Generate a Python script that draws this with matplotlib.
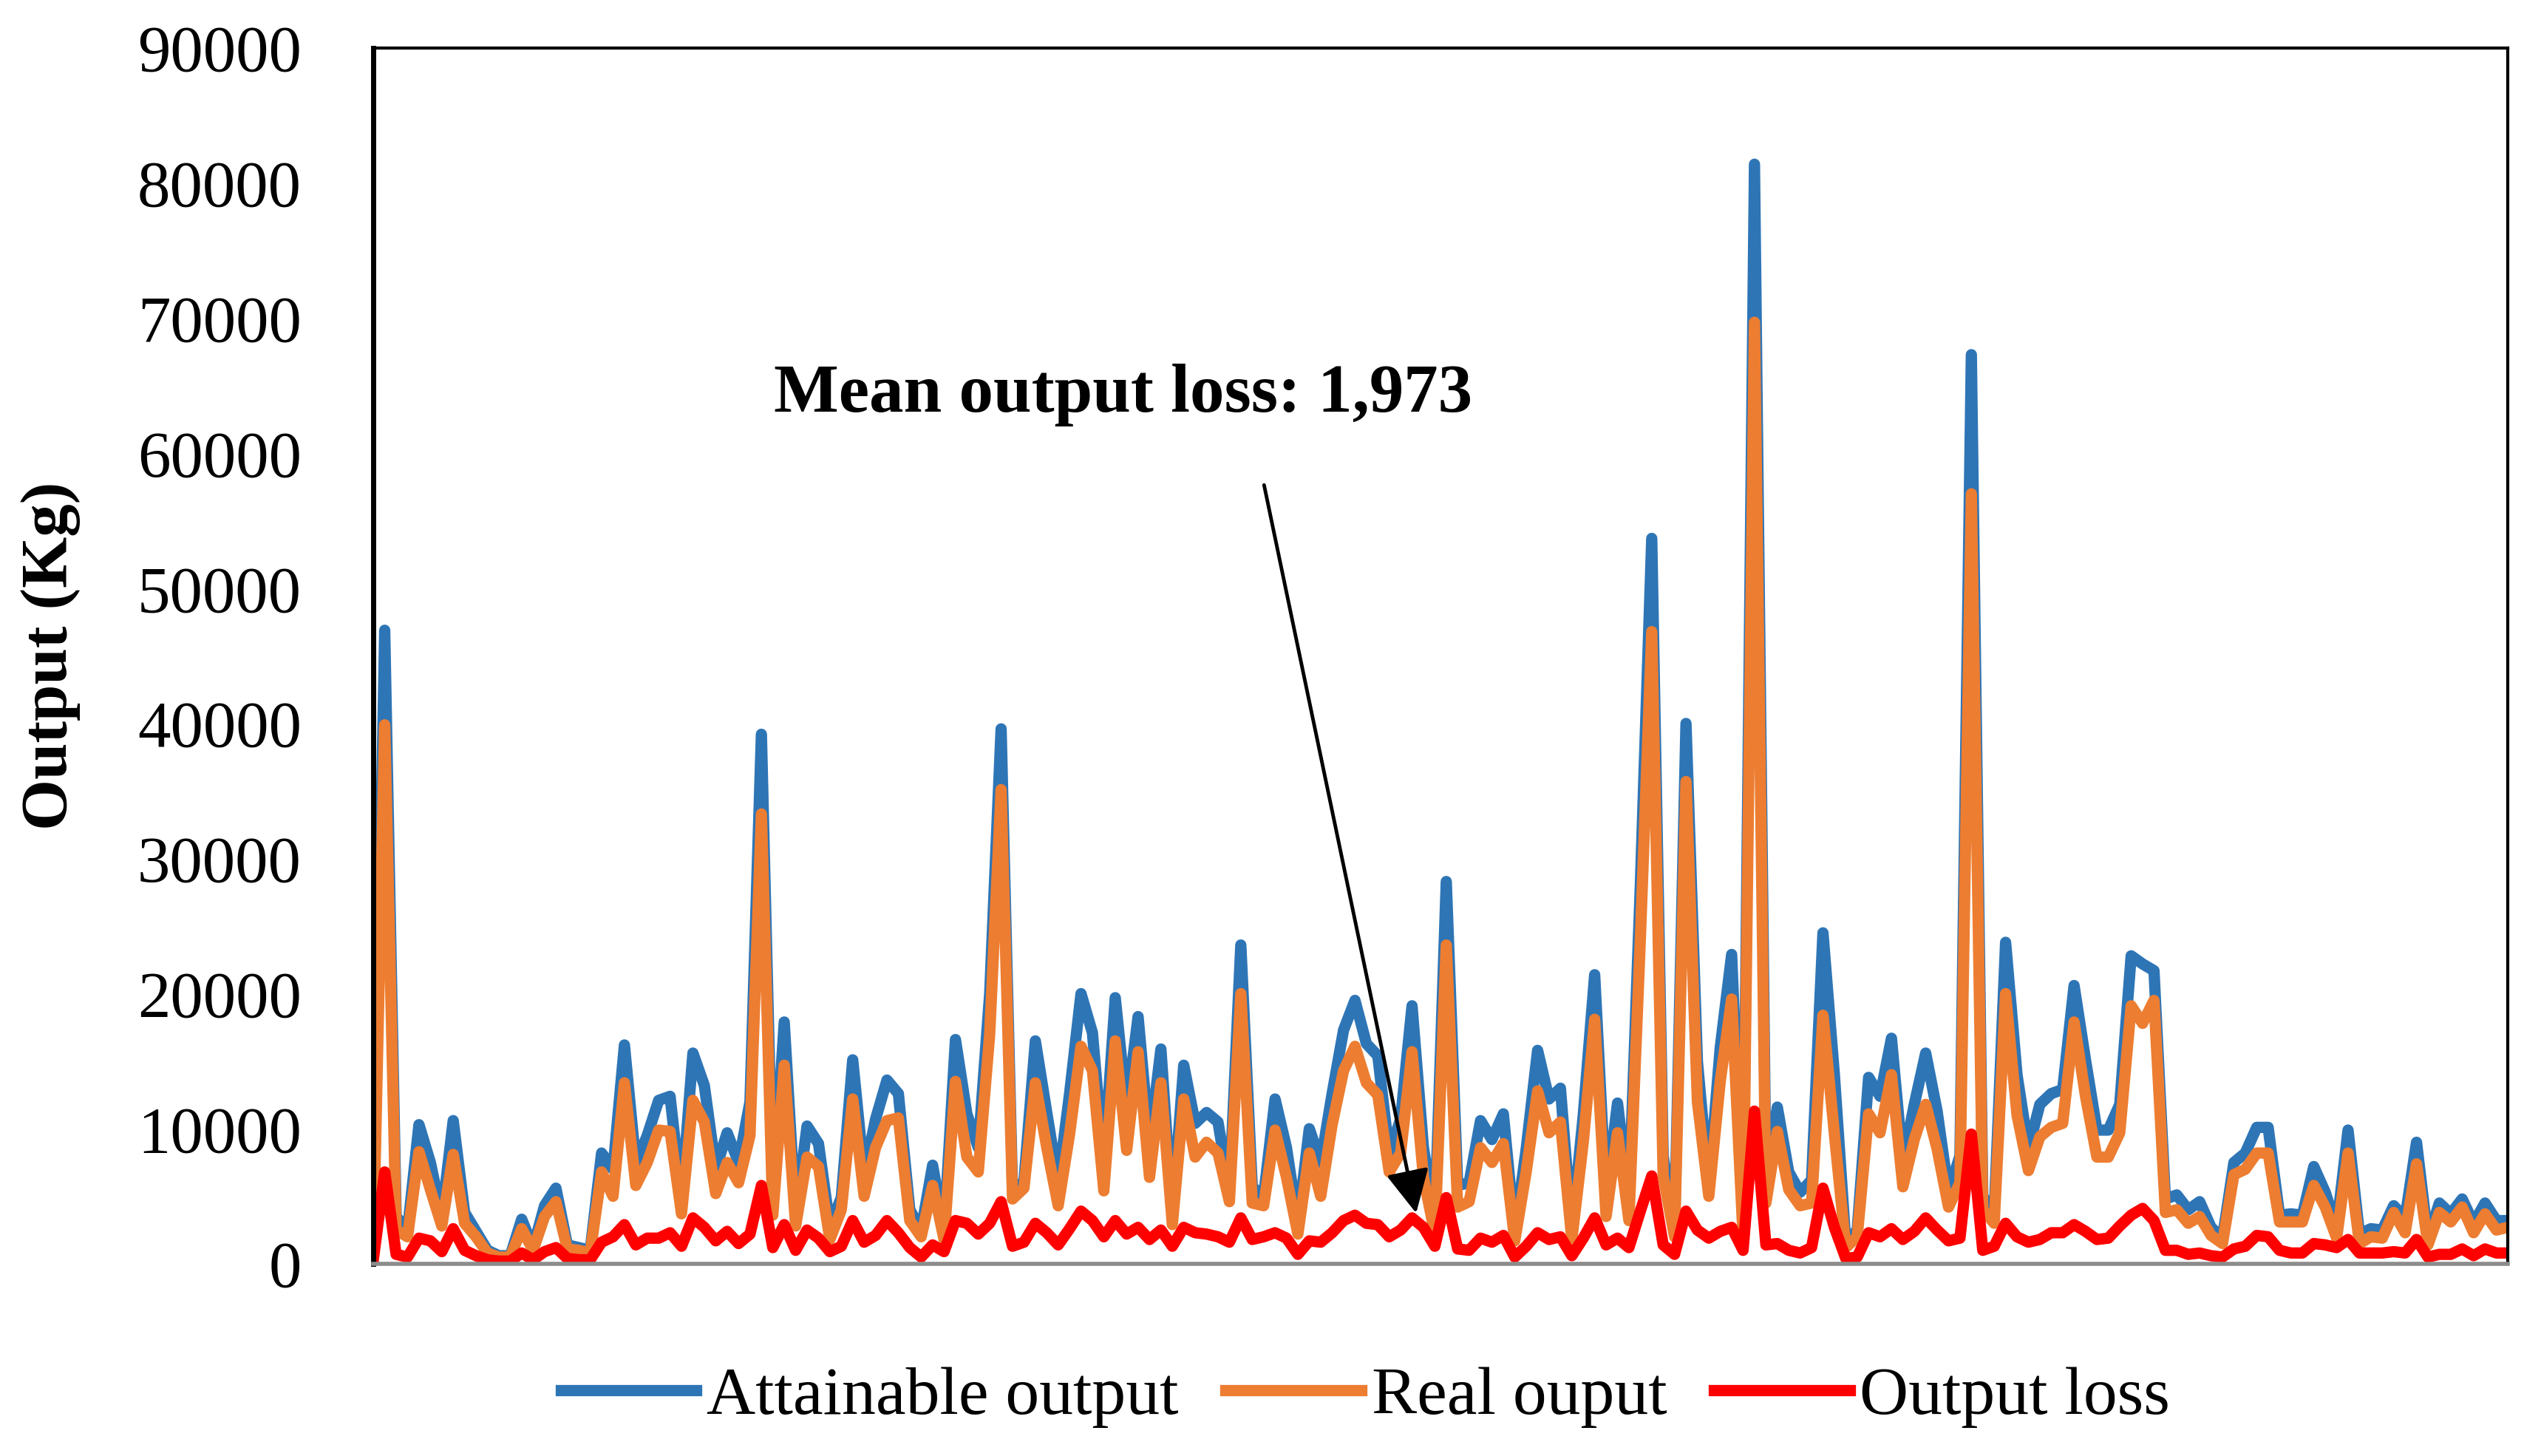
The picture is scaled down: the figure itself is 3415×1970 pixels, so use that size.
import matplotlib
matplotlib.use("Agg")
import matplotlib.pyplot as plt
import numpy as np

plt.rcParams['font.family'] = ['Liberation Serif', 'DejaVu Serif']

# values in thousands of Kg
attainable = [1.5, 46.9, 3.5, 2.5, 10.3, 7.5, 3.5, 10.6, 3.8, 2.4, 1.0, 0.6, 0.6, 3.3, 1.2, 4.3, 5.6, 1.4, 1.2, 1.0,
              8.2, 7.0, 16.2, 7.4, 9.5, 12.1, 12.4, 4.8, 15.6, 13.2, 7.0, 9.7,
              7.5, 12.0, 39.2, 4.8, 17.9, 3.6, 10.2, 8.9, 2.8, 4.9, 15.1, 6.6, 10.7, 13.6, 12.6, 4.0, 2.5, 7.3,
              2.5, 16.6, 11.1, 8.6, 20.0, 39.6, 5.4, 6.1, 16.5, 11.2, 6.0, 12.6, 20.0, 17.1, 7.4, 19.7,
              11.5, 18.3, 8.9, 15.9, 3.6, 14.7, 10.4, 11.2, 10.5, 5.4, 23.6, 5.7, 5.0, 12.2, 8.6, 3.0,
              10.0, 7.5, 12.6, 17.3, 19.5, 16.3, 15.4, 8.2, 10.7, 19.1, 8.6, 3.5, 28.3,
              5.8, 6.0, 10.6, 9.2, 11.1, 2.3, 8.5, 15.8, 12.2, 13.0, 2.5, 11.0, 21.4, 4.9, 11.9, 4.9, 28.0,
              53.7, 8.0, 2.8, 40.0, 15.0, 5.7, 16.0, 22.9, 2.5, 81.4, 6.2, 11.6, 6.8, 5.3,
              6.2, 24.5, 14.0, 1.6, 2.5, 13.8, 12.4, 16.7, 7.5, 11.8, 15.6, 11.3, 5.3, 8.0, 67.3, 5.0, 3.8,
              23.8, 14.0, 8.5, 11.8, 12.6, 12.9, 20.6, 15.1, 9.9, 9.9, 11.8, 22.8, 22.2, 21.7, 4.8, 5.1, 4.0,
              4.6, 2.7, 1.9, 7.5, 8.2, 10.1, 10.1, 3.6, 3.7, 3.6, 7.2, 5.3, 2.7, 9.9, 2.2, 2.6, 2.5, 4.3,
              3.4, 9.0, 1.9, 4.5, 3.7, 4.8, 3.0, 4.5, 3.2, 3.2]
real = [1.0, 39.9, 2.5, 2.0, 8.3, 5.5, 2.8, 8.1, 3.0, 2.0, 0.8, 0.5, 0.5, 2.6, 1.0, 3.5, 4.6, 1.1, 1.0, 0.8,
        6.8, 5.0, 13.4, 5.8, 7.5, 9.9, 9.8, 3.7, 12.1, 10.5, 5.2, 7.5,
        6.0, 9.5, 33.3, 3.6, 14.7, 2.8, 7.9, 7.2, 1.8, 4.0, 12.2, 5.0, 8.6, 10.6, 10.8, 3.2, 2.0, 5.8,
        1.8, 13.5, 7.9, 6.8, 17.0, 35.1, 4.8, 5.6, 13.4, 8.6, 4.3, 9.6, 16.1, 14.3, 5.4, 16.5,
        8.4, 15.7, 6.4, 13.4, 2.9, 12.2, 7.9, 9.0, 8.2, 4.6, 20.0, 4.5, 4.3, 9.9, 6.4, 2.2,
        8.2, 5.0, 10.3, 14.3, 16.1, 13.4, 12.5, 6.8, 8.2, 15.7, 6.4, 2.2, 23.6,
        4.2, 4.6, 8.6, 7.5, 8.9, 1.7, 6.8, 12.8, 9.7, 10.5, 1.8, 9.0, 18.1, 3.5, 9.7, 3.2, 24.0,
        46.8, 6.5, 2.0, 35.7, 12.0, 5.0, 13.5, 19.6, 2.0, 69.7, 4.5, 9.8, 5.5, 4.3,
        4.5, 18.4, 9.6, 1.2, 2.0, 11.1, 9.7, 14.0, 5.7, 9.2, 11.8, 8.5, 4.2, 6.0, 57.0, 4.0, 3.0,
        20.0, 11.0, 6.9, 9.4, 10.1, 10.4, 17.9, 12.4, 7.9, 7.9, 9.7, 19.1, 17.8, 19.5, 3.8, 4.0, 3.0,
        3.5, 2.1, 1.5, 6.6, 7.0, 8.2, 8.2, 3.1, 3.1, 3.1, 5.8, 4.2, 1.9, 8.2, 1.5, 2.0, 1.9, 3.8,
        2.3, 7.4, 1.4, 3.8, 3.1, 4.2, 2.3, 3.7, 2.5, 2.7]
loss = [0.3, 6.8, 0.7, 0.5, 1.9, 1.7, 0.9, 2.6, 1.0, 0.6, 0.3, 0.2, 0.2, 0.8, 0.3, 0.9, 1.2, 0.4, 0.3, 0.3,
        1.6, 2.0, 2.9, 1.4, 1.9, 1.9, 2.3, 1.3, 3.4, 2.7, 1.7, 2.4,
        1.5, 2.2, 5.8, 1.2, 2.9, 1.0, 2.5, 1.9, 0.9, 1.3, 3.2, 1.6, 2.1, 3.2, 2.3, 1.2, 0.5, 1.4,
        0.9, 3.2, 3.0, 2.2, 3.0, 4.6, 1.3, 1.6, 3.0, 2.3, 1.4, 2.6, 3.9, 3.2, 2.0, 3.2,
        2.2, 2.7, 1.8, 2.5, 1.3, 2.7, 2.3, 2.2, 2.0, 1.6, 3.4, 1.8, 2.0, 2.3, 1.9, 0.7,
        1.7, 1.6, 2.3, 3.2, 3.6, 3.0, 2.9, 2.0, 2.5, 3.4, 2.7, 1.3, 4.9,
        1.1, 1.0, 1.9, 1.6, 2.1, 0.5, 1.3, 2.3, 1.8, 2.0, 0.6, 1.9, 3.4, 1.4, 1.9, 1.2, 3.9,
        6.5, 1.4, 0.7, 3.9, 2.5, 1.9, 2.4, 2.7, 1.0, 11.3, 1.4, 1.5, 1.0, 0.8,
        1.2, 5.6, 2.7, 0.4, 0.5, 2.3, 2.0, 2.6, 1.8, 2.4, 3.4, 2.5, 1.7, 1.9, 9.6, 1.0, 1.3,
        3.0, 2.0, 1.6, 1.8, 2.3, 2.3, 2.9, 2.4, 1.8, 1.9, 2.8, 3.6, 4.1, 3.2, 1.0, 1.0, 0.7,
        0.8, 0.6, 0.5, 1.1, 1.3, 2.1, 2.0, 1.0, 0.8, 0.8, 1.5, 1.4, 1.2, 1.8, 0.8, 0.8, 0.8, 0.9,
        0.8, 1.8, 0.5, 0.7, 0.7, 1.1, 0.6, 1.1, 0.8, 0.8]

labels = ['Attainable output', 'Real ouput', 'Output loss']
colors = ['#2E75B6', '#ED7D31', '#FF0000']
mean_loss = '1,973'

fig = plt.figure(figsize=(34.15, 19.70), dpi=100)
ax = fig.add_axes([0.1479, 0.132, 0.8457, 0.835])

series = [attainable, real, loss]
for vals, lab, col in zip(series, labels, colors):
    ax.plot(np.arange(len(vals)), np.array(vals) * 1000, color=col, lw=11, label=lab)

n = len(attainable)
ax.set_xlim(0, n - 1)
ax.set_ylim(0, 90000)
ax.set_yticks(range(0, 90001, 10000))
ax.set_xticks([])
ax.tick_params(axis='y', length=0, pad=70, labelsize=64)

for s in ['top', 'right', 'left']:
    ax.spines[s].set_color('black')
ax.spines['left'].set_linewidth(5)
ax.spines['top'].set_linewidth(3)
ax.spines['right'].set_linewidth(3)
ax.spines['bottom'].set_color('#8c8c8c')
ax.spines['bottom'].set_linewidth(4)

ax.set_ylabel('Output (Kg)', fontsize=64, fontweight='bold')
ax.yaxis.set_label_coords(-0.137, 0.5)

ax.annotate('', xy=(91.4, 3600), xytext=(78, 57800),
            arrowprops=dict(arrowstyle='-|>', color='black', lw=3.5,
                            mutation_scale=90))
ax.text(65.7, 64300, 'Mean output loss: ' + mean_loss, fontsize=67,
        fontweight='bold', ha='center', va='center')

fig.legend(loc='center', bbox_to_anchor=(0.541, 0.0406), ncol=3, frameon=False,
           fontsize=66, handlelength=2.0, handletextpad=0.15, columnspacing=0.7)

fig.savefig('out.png', dpi=100)
